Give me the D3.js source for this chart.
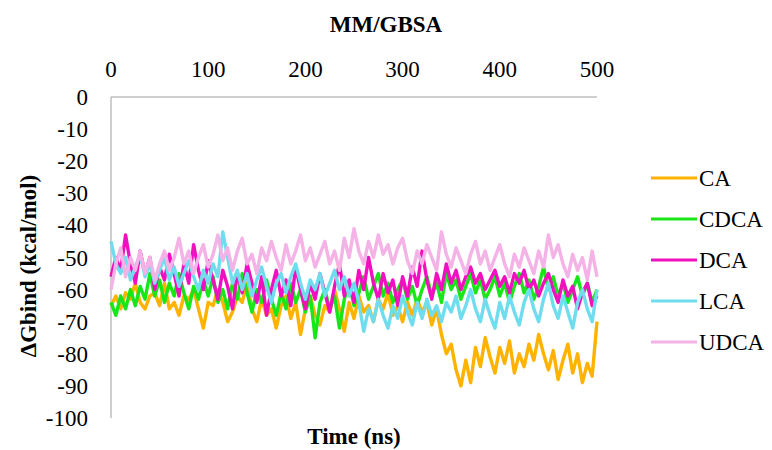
<!DOCTYPE html>
<html>
<head>
<meta charset="utf-8">
<script src="https://cdn.jsdelivr.net/npm/d3@7"></script>
<style>
  body { margin: 0; background: #fff; }
</style>
</head>
<body>
<div id="chart"></div>
<script>
// time step 5 ns, 0..500
var times = d3.range(0, 501, 5);

var CA = [-65,-62,-66,-61,-63,-58,-64,-66,-62,-61,-65,-58,-66,-64,-68,-62,-63,-60,-66,-72,-64,
  -65,-60,-64,-70,-67,-62,-64,-58,-66,-70,-63,-68,-66,-72,-65,-62,-69,-64,-74,-66,
  -62,-68,-71,-65,-67,-60,-66,-73,-64,-69,-62,-67,-65,-70,-63,-66,-61,-68,-65,-70,
  -64,-68,-63,-67,-64,-71,-66,-74,-80,-77,-85,-90,-82,-89,-78,-84,-75,-81,-86,-78,
  -83,-76,-86,-80,-84,-77,-82,-74,-80,-85,-79,-88,-82,-77,-86,-80,-89,-83,-87,-70];

var CDCA = [-64,-68,-62,-66,-60,-65,-59,-63,-55,-62,-57,-64,-58,-62,-55,-61,-66,-59,-63,-57,-62,
  -56,-64,-60,-66,-58,-63,-55,-61,-67,-60,-64,-57,-63,-68,-61,-66,-58,-64,-60,-67,
  -62,-75,-64,-60,-66,-62,-72,-63,-58,-65,-61,-56,-63,-59,-55,-62,-58,-64,-60,-57,
  -63,-59,-65,-60,-56,-62,-58,-64,-55,-60,-57,-63,-59,-55,-61,-57,-63,-60,-56,-62,
  -58,-64,-59,-55,-61,-57,-63,-59,-53,-60,-56,-62,-58,-64,-60,-56,-62,-58,-64,-60];

var DCA = [-56,-50,-54,-43,-52,-58,-48,-55,-50,-60,-53,-57,-49,-55,-62,-52,-58,-46,-54,-60,-51,
  -57,-63,-54,-59,-66,-55,-61,-52,-58,-64,-56,-68,-60,-54,-62,-57,-65,-53,-60,-66,
  -58,-63,-55,-61,-67,-59,-52,-62,-57,-64,-54,-60,-50,-58,-63,-55,-61,-57,-65,-56,
  -62,-53,-59,-48,-57,-63,-55,-60,-52,-58,-54,-60,-56,-53,-58,-55,-60,-57,-54,-59,
  -56,-61,-55,-58,-54,-60,-57,-62,-58,-55,-60,-64,-57,-62,-59,-66,-61,-58,-65,-62];

var LCA = [-45,-52,-55,-50,-57,-53,-49,-56,-52,-58,-54,-50,-57,-53,-59,-55,-51,-56,-60,-54,-58,
  -52,-56,-42,-50,-58,-54,-60,-55,-62,-57,-53,-59,-64,-58,-55,-61,-56,-52,-58,-63,
  -57,-60,-55,-62,-58,-54,-60,-56,-62,-58,-64,-73,-66,-70,-63,-68,-72,-65,-69,-62,
  -67,-71,-64,-69,-63,-68,-65,-70,-64,-67,-62,-69,-65,-60,-66,-70,-63,-68,-72,-64,
  -69,-62,-67,-71,-64,-60,-66,-70,-63,-58,-65,-69,-62,-67,-72,-64,-60,-66,-70,-60];

var UDCA = [-60,-52,-47,-56,-50,-54,-48,-55,-50,-57,-52,-48,-54,-50,-44,-52,-48,-55,-50,-46,-53,
  -49,-43,-51,-47,-54,-48,-44,-52,-49,-55,-47,-51,-45,-50,-54,-46,-52,-48,-43,-51,
  -47,-53,-49,-45,-52,-48,-54,-44,-50,-41,-48,-52,-45,-50,-43,-49,-46,-52,-47,-44,
  -51,-55,-48,-52,-46,-50,-54,-42,-49,-53,-47,-51,-55,-49,-45,-52,-48,-54,-50,-46,
  -52,-56,-49,-53,-47,-51,-55,-48,-53,-43,-50,-46,-52,-56,-49,-54,-50,-57,-48,-56];

var seriesNames = ["CA", "CDCA", "DCA", "LCA", "UDCA"];
var seriesValues = [CA, CDCA, DCA, LCA, UDCA];
var seriesColors = ["#FFB300", "#19E619", "#F010C0", "#70DDEE", "#F4B2E6"];

var xTicks = [0, 100, 200, 300, 400, 500];
var yTicks = [0, -10, -20, -30, -40, -50, -60, -70, -80, -90, -100];

var W = 772, H = 450;
var FONT = "'Liberation Serif'";

var svg = d3.select("#chart")
    .append("svg")
    .attr("width", W)
    .attr("height", H);

var x = d3.scaleLinear().domain([0, 500]).range([111, 597]);
var y = d3.scaleLinear().domain([-100, 0]).range([418, 97]);

// frame lines (top and left)
svg.append("line")
    .attr("x1", x(0)).attr("x2", x(500))
    .attr("y1", y(0)).attr("y2", y(0))
    .style("stroke", "#BFBFBF").style("stroke-width", 1.5);
svg.append("line")
    .attr("x1", x(0)).attr("x2", x(0))
    .attr("y1", y(0)).attr("y2", y(-100))
    .style("stroke", "#BFBFBF").style("stroke-width", 1.5);

// x tick labels on top
svg.append("g")
    .selectAll("text")
    .data(xTicks)
    .enter()
    .append("text")
    .attr("x", function(d) { return x(d); })
    .attr("y", 77)
    .attr("text-anchor", "middle")
    .style("font-family", FONT)
    .style("font-size", "23px")
    .text(function(d) { return d; });

// y tick labels
svg.append("g")
    .selectAll("text")
    .data(yTicks)
    .enter()
    .append("text")
    .attr("x", 88)
    .attr("y", function(d) { return y(d) + 8; })
    .attr("text-anchor", "end")
    .style("font-family", FONT)
    .style("font-size", "23px")
    .text(function(d) { return d; });

// lines
var line = d3.line()
    .x(function(d, i) { return x(times[i]); })
    .y(function(d) { return y(d); });

seriesValues.forEach(function(vals, k) {
  svg.append("path")
      .datum(vals)
      .attr("d", line)
      .style("fill", "none")
      .style("stroke", seriesColors[k])
      .style("stroke-width", 3.4)
      .style("stroke-linejoin", "round");
});

// titles
svg.append("text")
    .attr("x", 386)
    .attr("y", 32)
    .attr("text-anchor", "middle")
    .style("font-family", FONT)
    .style("font-size", "23px")
    .style("font-weight", "bold")
    .text("MM/GBSA");

svg.append("text")
    .attr("x", 354)
    .attr("y", 444)
    .attr("text-anchor", "middle")
    .style("font-family", FONT)
    .style("font-size", "23px")
    .style("font-weight", "bold")
    .text("Time (ns)");

svg.append("text")
    .attr("transform", "translate(36,266) rotate(-90)")
    .attr("text-anchor", "middle")
    .style("font-family", FONT)
    .style("font-size", "23px")
    .style("font-weight", "bold")
    .text("\u0394Gbind (kcal/mol)");

// legend
var legend = svg.append("g")
    .selectAll("g")
    .data(seriesNames)
    .enter()
    .append("g")
    .attr("transform", function(d, i) { return "translate(651," + (178 + i * 41) + ")"; });

legend.append("line")
    .attr("x1", 0).attr("x2", 46)
    .attr("y1", 0).attr("y2", 0)
    .style("stroke", function(d, i) { return seriesColors[i]; })
    .style("stroke-width", 3.2);

legend.append("text")
    .attr("x", 48)
    .attr("y", 8)
    .style("font-family", FONT)
    .style("font-size", "23px")
    .text(function(d) { return d; });
</script>
</body>
</html>
